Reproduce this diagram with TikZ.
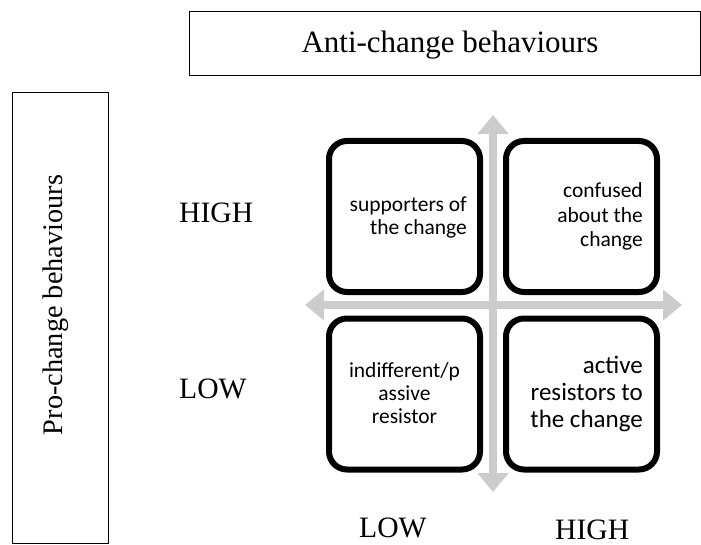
\documentclass[tikz,border=0pt]{standalone}
\usepackage{fontspec}
\setmainfont{Liberation Serif}
\newfontfamily\calfont{Carlito}
\usetikzlibrary{arrows.meta}
\definecolor{arrowgray}{RGB}{204,204,204}
\tikzset{
  labelbox/.style={draw=black, line width=1pt, fill=white},
  quad/.style={draw=black, line width=6pt, rounded corners=18pt, minimum width=151pt, minimum height=151pt, inner sep=0pt},
  axis/.style={draw=arrowgray, line width=8pt, {Triangle[length=19pt,width=30pt]}-{Triangle[length=19pt,width=30pt]}},
  serif/.style={font=\fontsize{29.6}{34}\selectfont, inner sep=0pt},
  qtext/.style={font=\calfont\fontsize{21.5}{23}\selectfont, inner sep=0pt}
}
\begin{document}
\begin{tikzpicture}[x=1pt, y=-1pt]
\useasboundingbox (0,0) rectangle (701,545);
% title boxes
\node[labelbox, minimum width=511pt, minimum height=64pt, anchor=north west] (antibox) at (188.5,11.5) {};
\node[font=\fontsize{31}{36}\selectfont, inner sep=0pt, anchor=base] (antitext) at (450,53) {Anti-change behaviours};
\node[labelbox, minimum width=96pt, minimum height=450pt, anchor=north west] (probox) at (11.5,92.5) {};
\node[font=\fontsize{28.3}{33}\selectfont, inner sep=0pt, anchor=base, rotate=90] (protext) at (62,305) {Pro-change behaviours};
% axes
\coordinate (vtop) at (493,115);
\coordinate (vbot) at (493,492);
\coordinate (hleft) at (305,305);
\coordinate (hright) at (682,305);
\draw[axis] (vbot) -- (vtop);
\draw[axis] (hleft) -- (hright);
% quadrants
\node[quad] (tl) at (404.5,216.5) {};
\node[quad] (tr) at (581.5,216.5) {};
\node[quad] (bl) at (404.5,394) {};
\node[quad] (br) at (581.5,394) {};
\node[qtext, align=right, anchor=base east] (tltext) at (467,235) {supporters of\\the change};
\node[qtext, font=\calfont\fontsize{21.5}{24.5}\selectfont, align=right, anchor=base east] (trtext) at (643,247) {confused\\about the\\change};
\node[qtext, align=center, anchor=base] (bltext) at (404.5,423) {indifferent/p\\assive\\resistor};
\node[qtext, font=\calfont\fontsize{25}{27}\selectfont, align=right, anchor=base east] (brtext) at (643,427) {active\\resistors to\\the change};
% level labels
\node[serif, anchor=base west] (highy) at (179,223) {HIGH};
\node[serif, anchor=base west] (lowy) at (179,398) {LOW};
\node[serif, anchor=base west] (lowx) at (359,537) {LOW};
\node[serif, anchor=base west] (highx) at (555,539) {HIGH};
\end{tikzpicture}
\end{document}
